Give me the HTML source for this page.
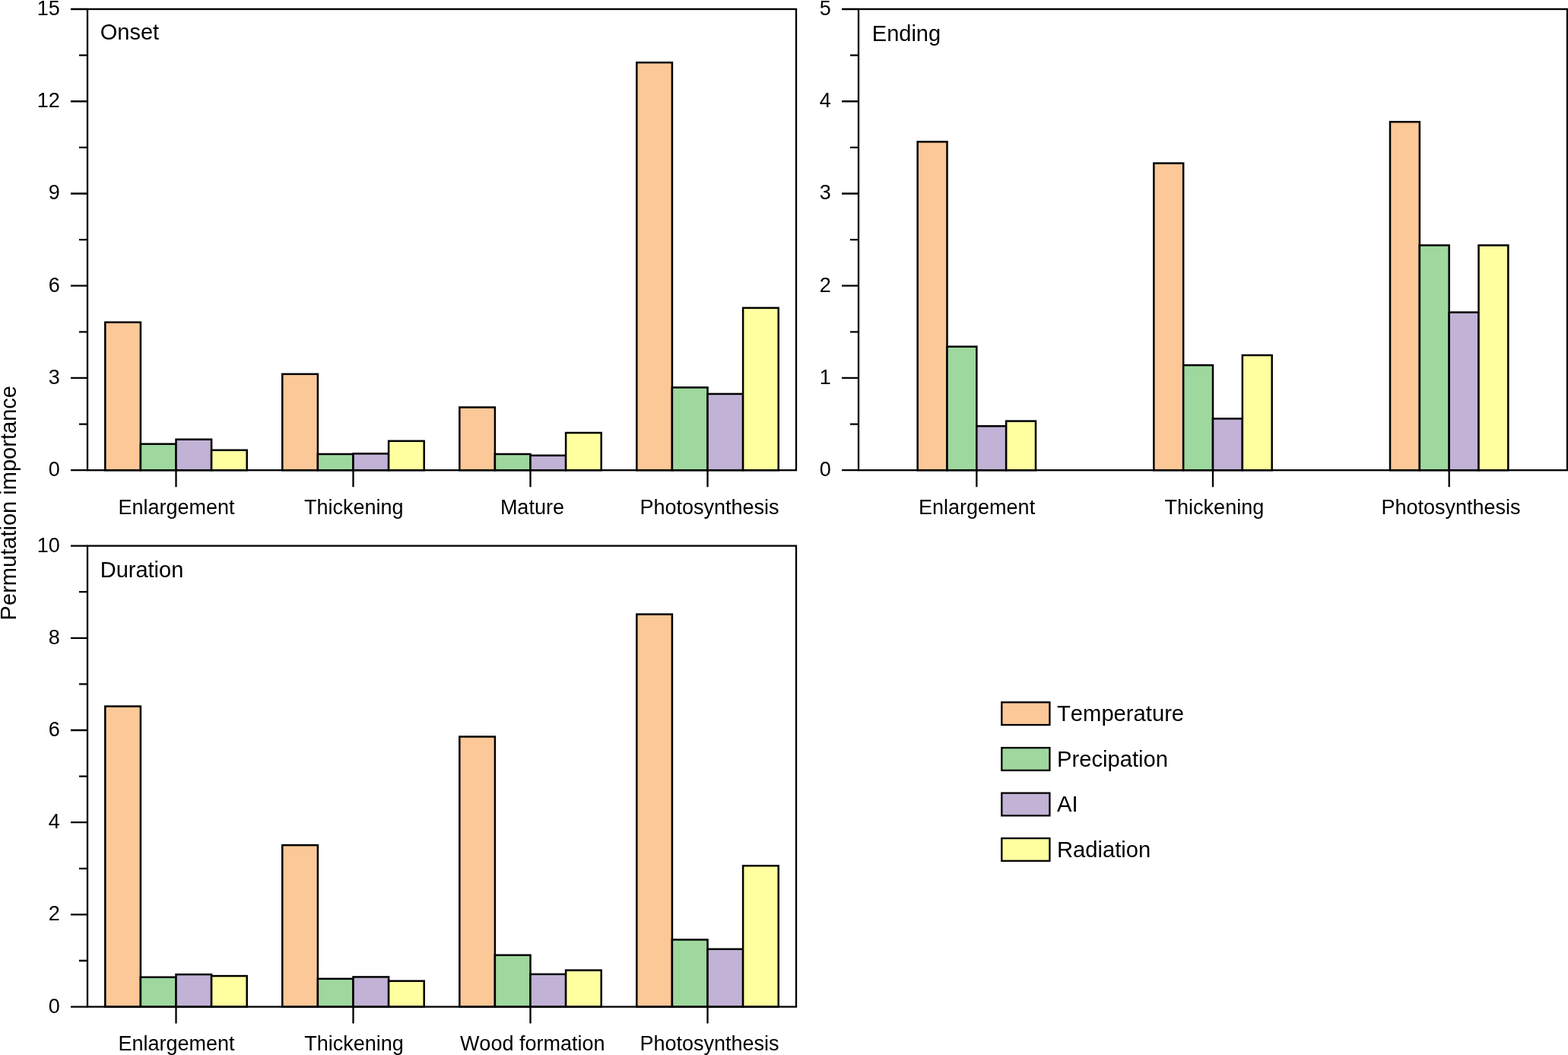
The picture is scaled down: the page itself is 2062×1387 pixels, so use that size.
<!DOCTYPE html>
<html><head><meta charset="utf-8"><title>Permutation importance</title>
<style>
html,body{margin:0;padding:0;background:#fff;}
svg{display:block;}
text{font-family:"Liberation Sans", Arial, sans-serif;fill:#000;font-kerning:none;}
.tk{font-size:27px;text-anchor:end;}
.ct{font-size:27px;text-anchor:middle;}
.ti{font-size:29px;}
.lg{font-size:29.2px;}
.yt{font-size:29.06px;text-anchor:middle;}
</style></head><body>
<svg width="2062" height="1387" viewBox="0 0 2062 1387">
<rect x="0" y="0" width="2062" height="1387" fill="#fff"/>
<g>
<rect x="138.3" y="423.7" width="46.6" height="194.5" fill="#FCC898" stroke="#000" stroke-width="2.5"/>
<rect x="184.9" y="583.7" width="46.6" height="34.5" fill="#9ED89E" stroke="#000" stroke-width="2.5"/>
<rect x="231.5" y="577.7" width="46.6" height="40.5" fill="#C1B2D6" stroke="#000" stroke-width="2.5"/>
<rect x="278.1" y="591.8" width="46.6" height="26.4" fill="#FFFFA0" stroke="#000" stroke-width="2.5"/>
<rect x="371.3" y="491.8" width="46.6" height="126.4" fill="#FCC898" stroke="#000" stroke-width="2.5"/>
<rect x="417.9" y="597" width="46.6" height="21.2" fill="#9ED89E" stroke="#000" stroke-width="2.5"/>
<rect x="464.5" y="596.4" width="46.6" height="21.8" fill="#C1B2D6" stroke="#000" stroke-width="2.5"/>
<rect x="511.1" y="579.8" width="46.6" height="38.4" fill="#FFFFA0" stroke="#000" stroke-width="2.5"/>
<rect x="604.3" y="535.5" width="46.6" height="82.7" fill="#FCC898" stroke="#000" stroke-width="2.5"/>
<rect x="650.9" y="597" width="46.6" height="21.2" fill="#9ED89E" stroke="#000" stroke-width="2.5"/>
<rect x="697.5" y="598.8" width="46.6" height="19.4" fill="#C1B2D6" stroke="#000" stroke-width="2.5"/>
<rect x="744.1" y="569" width="46.6" height="49.2" fill="#FFFFA0" stroke="#000" stroke-width="2.5"/>
<rect x="837.3" y="82.2" width="46.6" height="536" fill="#FCC898" stroke="#000" stroke-width="2.5"/>
<rect x="883.9" y="509.4" width="46.6" height="108.8" fill="#9ED89E" stroke="#000" stroke-width="2.5"/>
<rect x="930.5" y="517.9" width="46.6" height="100.3" fill="#C1B2D6" stroke="#000" stroke-width="2.5"/>
<rect x="977.1" y="404.8" width="46.6" height="213.4" fill="#FFFFA0" stroke="#000" stroke-width="2.5"/>
<rect x="115" y="12" width="932" height="606.2" fill="none" stroke="#000" stroke-width="2.3"/>
<text class="tk" x="78.7" y="626.2">0</text>
<text class="tk" x="78.7" y="504.96">3</text>
<text class="tk" x="78.7" y="383.72">6</text>
<text class="tk" x="78.7" y="262.48">9</text>
<text class="tk" x="78.7" y="141.24">12</text>
<text class="tk" x="78.7" y="20">15</text>
<text class="ct" x="232" y="675.8">Enlargement</text>
<text class="ct" x="465.3" y="675.8">Thickening</text>
<text class="ct" x="699.9" y="675.8">Mature</text>
<text class="ct" x="933" y="675.8">Photosynthesis</text>
<path d="M93 618.2H115M104 557.58H115M93 496.96H115M104 436.34H115M93 375.72H115M104 315.1H115M93 254.48H115M104 193.86H115M93 133.24H115M104 72.62H115M93 12H115M231.5 618.2V640.2M464.5 618.2V640.2M697.5 618.2V640.2M930.5 618.2V640.2" stroke="#000" stroke-width="2.3" fill="none"/>
<text class="ti" x="131.8" y="51.8">Onset</text>
</g>
<g>
<rect x="1206.67" y="186.4" width="38.83" height="431.8" fill="#FCC898" stroke="#000" stroke-width="2.5"/>
<rect x="1245.5" y="455.7" width="38.83" height="162.5" fill="#9ED89E" stroke="#000" stroke-width="2.5"/>
<rect x="1284.33" y="560.2" width="38.83" height="58" fill="#C1B2D6" stroke="#000" stroke-width="2.5"/>
<rect x="1323.17" y="553.6" width="38.83" height="64.6" fill="#FFFFA0" stroke="#000" stroke-width="2.5"/>
<rect x="1517.33" y="214.6" width="38.83" height="403.6" fill="#FCC898" stroke="#000" stroke-width="2.5"/>
<rect x="1556.17" y="480.1" width="38.83" height="138.1" fill="#9ED89E" stroke="#000" stroke-width="2.5"/>
<rect x="1595" y="550.4" width="38.83" height="67.8" fill="#C1B2D6" stroke="#000" stroke-width="2.5"/>
<rect x="1633.83" y="467" width="38.83" height="151.2" fill="#FFFFA0" stroke="#000" stroke-width="2.5"/>
<rect x="1828" y="160.2" width="38.83" height="458" fill="#FCC898" stroke="#000" stroke-width="2.5"/>
<rect x="1866.83" y="322.5" width="38.83" height="295.7" fill="#9ED89E" stroke="#000" stroke-width="2.5"/>
<rect x="1905.67" y="410.6" width="38.83" height="207.6" fill="#C1B2D6" stroke="#000" stroke-width="2.5"/>
<rect x="1944.5" y="322.5" width="38.83" height="295.7" fill="#FFFFA0" stroke="#000" stroke-width="2.5"/>
<rect x="1129" y="12" width="932" height="606.2" fill="none" stroke="#000" stroke-width="2.3"/>
<text class="tk" x="1092.7" y="626.2">0</text>
<text class="tk" x="1092.7" y="504.96">1</text>
<text class="tk" x="1092.7" y="383.72">2</text>
<text class="tk" x="1092.7" y="262.48">3</text>
<text class="tk" x="1092.7" y="141.24">4</text>
<text class="tk" x="1092.7" y="20">5</text>
<text class="ct" x="1284.6" y="675.8">Enlargement</text>
<text class="ct" x="1596.9" y="675.8">Thickening</text>
<text class="ct" x="1908" y="675.8">Photosynthesis</text>
<path d="M1107 618.2H1129M1118 557.58H1129M1107 496.96H1129M1118 436.34H1129M1107 375.72H1129M1118 315.1H1129M1107 254.48H1129M1118 193.86H1129M1107 133.24H1129M1118 72.62H1129M1107 12H1129M1284.33 618.2V640.2M1595 618.2V640.2M1905.67 618.2V640.2" stroke="#000" stroke-width="2.3" fill="none"/>
<text class="ti" x="1146.8" y="54.1">Ending</text>
</g>
<g>
<rect x="138.3" y="928.6" width="46.6" height="395" fill="#FCC898" stroke="#000" stroke-width="2.5"/>
<rect x="184.9" y="1284.7" width="46.6" height="38.9" fill="#9ED89E" stroke="#000" stroke-width="2.5"/>
<rect x="231.5" y="1281.1" width="46.6" height="42.5" fill="#C1B2D6" stroke="#000" stroke-width="2.5"/>
<rect x="278.1" y="1283.1" width="46.6" height="40.5" fill="#FFFFA0" stroke="#000" stroke-width="2.5"/>
<rect x="371.3" y="1111.1" width="46.6" height="212.5" fill="#FCC898" stroke="#000" stroke-width="2.5"/>
<rect x="417.9" y="1286.8" width="46.6" height="36.8" fill="#9ED89E" stroke="#000" stroke-width="2.5"/>
<rect x="464.5" y="1284.4" width="46.6" height="39.2" fill="#C1B2D6" stroke="#000" stroke-width="2.5"/>
<rect x="511.1" y="1289.7" width="46.6" height="33.9" fill="#FFFFA0" stroke="#000" stroke-width="2.5"/>
<rect x="604.3" y="968.5" width="46.6" height="355.1" fill="#FCC898" stroke="#000" stroke-width="2.5"/>
<rect x="650.9" y="1255.7" width="46.6" height="67.9" fill="#9ED89E" stroke="#000" stroke-width="2.5"/>
<rect x="697.5" y="1280.8" width="46.6" height="42.8" fill="#C1B2D6" stroke="#000" stroke-width="2.5"/>
<rect x="744.1" y="1275.6" width="46.6" height="48" fill="#FFFFA0" stroke="#000" stroke-width="2.5"/>
<rect x="837.3" y="807.6" width="46.6" height="516" fill="#FCC898" stroke="#000" stroke-width="2.5"/>
<rect x="883.9" y="1235.4" width="46.6" height="88.2" fill="#9ED89E" stroke="#000" stroke-width="2.5"/>
<rect x="930.5" y="1247.8" width="46.6" height="75.8" fill="#C1B2D6" stroke="#000" stroke-width="2.5"/>
<rect x="977.1" y="1138.2" width="46.6" height="185.4" fill="#FFFFA0" stroke="#000" stroke-width="2.5"/>
<rect x="115" y="717.6" width="932" height="606" fill="none" stroke="#000" stroke-width="2.3"/>
<text class="tk" x="78.7" y="1331.6">0</text>
<text class="tk" x="78.7" y="1210.4">2</text>
<text class="tk" x="78.7" y="1089.2">4</text>
<text class="tk" x="78.7" y="968">6</text>
<text class="tk" x="78.7" y="846.8">8</text>
<text class="tk" x="78.7" y="725.6">10</text>
<text class="ct" x="232" y="1381.2">Enlargement</text>
<text class="ct" x="465.6" y="1381.2">Thickening</text>
<text class="ct" x="700.2" y="1381.2">Wood formation</text>
<text class="ct" x="933" y="1381.2">Photosynthesis</text>
<path d="M93 1323.6H115M104 1263H115M93 1202.4H115M104 1141.8H115M93 1081.2H115M104 1020.6H115M93 960H115M104 899.4H115M93 838.8H115M104 778.2H115M93 717.6H115M231.5 1323.6V1345.6M464.5 1323.6V1345.6M697.5 1323.6V1345.6M930.5 1323.6V1345.6" stroke="#000" stroke-width="2.3" fill="none"/>
<text class="ti" x="131.7" y="758.8">Duration</text>
</g>
<text class="yt" transform="translate(21.1,661.2) rotate(-90)">Permutation importance</text>
<rect x="1317.3" y="923.3" width="63.1" height="29.7" fill="#FCC898" stroke="#000" stroke-width="2.3"/>
<text class="lg" x="1390" y="947.7">Temperature</text>
<rect x="1317.3" y="983.1" width="63.1" height="29.7" fill="#9ED89E" stroke="#000" stroke-width="2.3"/>
<text class="lg" x="1390" y="1008.2">Precipation</text>
<rect x="1317.3" y="1042.6" width="63.1" height="29.7" fill="#C1B2D6" stroke="#000" stroke-width="2.3"/>
<text class="lg" x="1390" y="1067.3">AI</text>
<rect x="1317.3" y="1102.1" width="63.1" height="29.7" fill="#FFFFA0" stroke="#000" stroke-width="2.3"/>
<text class="lg" x="1390" y="1126.8">Radiation</text>
</svg>
</body></html>
